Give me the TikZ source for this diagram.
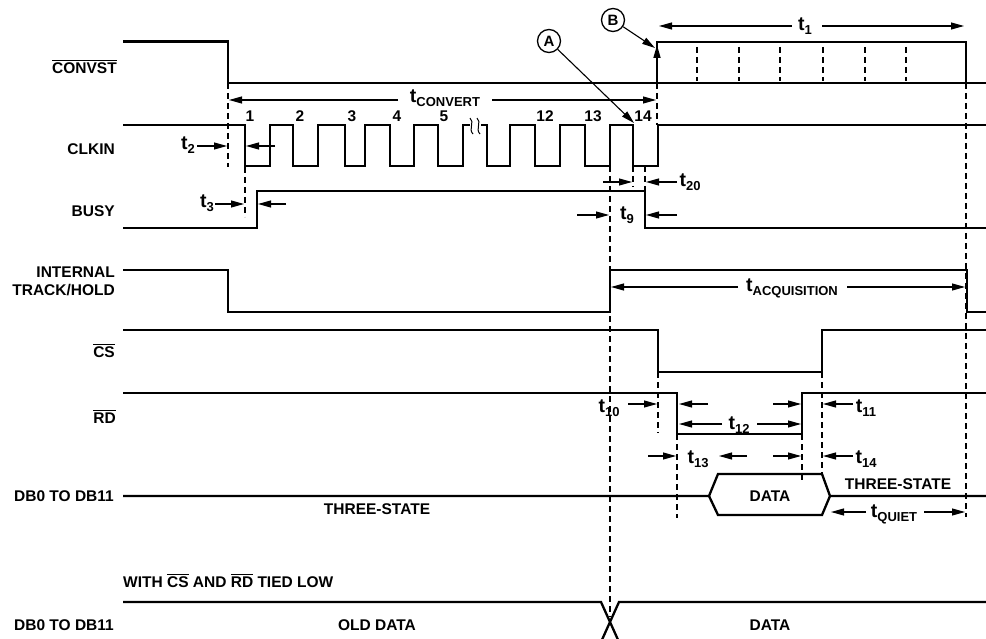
\documentclass[tikz,border=0pt]{standalone}
\usepackage{fontspec}
\setmainfont{Liberation Sans}
\usetikzlibrary{arrows.meta}
\newcommand\tlab[1]{{\fontsize{19.5}{19.5}\selectfont t}\raisebox{-4pt}{\fontsize{13}{13}\selectfont #1}}
\newcommand\ovl[1]{\vbox{\hrule height 1.2pt\kern 2pt\hbox{#1}}}
\begin{document}
\begin{tikzpicture}[x=1pt,y=-1pt,
 sig/.style={line width=2.3pt},
 dsh/.style={line width=1.1pt, dash pattern=on 6pt off 4pt},
 arr/.style={line width=1.1pt,-{Triangle[length=13pt,width=7pt]}},
 lbl/.style={font=\fontsize{15.5}{18}\selectfont\bfseries, inner sep=0pt},
 tl/.style={font=\bfseries, inner sep=0pt, anchor=base},
 num/.style={font=\fontsize{15.5}{18}\selectfont\bfseries, inner sep=0pt, anchor=base},
 circ/.style={circle, draw, line width=1.3pt, minimum size=23pt, inner sep=0pt, font=\fontsize{15}{15}\selectfont\bfseries},
]
\useasboundingbox (0,0) rectangle (986,639);

% ---------- signal labels
\node[lbl, anchor=east] (lconv) at (117,67) {\ovl{CONVST}};
\node[lbl, anchor=east] (lclk) at (115,149) {CLKIN};
\node[lbl, anchor=east] (lbusy) at (115,211) {BUSY};
\node[lbl, anchor=east, align=right] (lth) at (115,281) {INTERNAL\\TRACK/HOLD};
\node[lbl, anchor=east] (lcs) at (115,351) {\ovl{CS}};
\node[lbl, anchor=east] (lrd) at (116,417) {\ovl{RD}};
\node[lbl, anchor=east] (ldb) at (114,496) {DB0 TO DB11};
\node[lbl, anchor=west] (lwith) at (123,581) {WITH \ovl{CS} AND \ovl{RD} TIED LOW};
\node[lbl, anchor=east] (ldb2) at (114,625) {DB0 TO DB11};

% ---------- dashed guide lines
\draw[dsh] (228,83) -- (228,167);
\draw[dsh] (245,167) -- (245,217);
\draw[dsh] (657,83) -- (657,125);
\draw[dsh] (610,166) -- (610,617);
\draw[dsh] (633,166) -- (633,187);
\draw[dsh] (645,166) -- (645,191);
\draw[dsh] (966,83) -- (966,517);
\draw[dsh] (658,372) -- (658,433);
\draw[dsh] (677,434) -- (677,518);
\draw[dsh] (802,434) -- (802,480);
\draw[dsh] (822,372) -- (822,474);
\foreach \x in {697,739,780,823,865,906} \draw[dsh] (\x,47) -- (\x,81);

% ---------- CONVST
\draw[sig] (123,41.5) -- (228,41.5) -- (228,83) -- (986,83);
\draw[sig] (657,83) -- (657,42) -- (966,42) -- (966,83);
\draw[arr, line width=1.6pt] (657,72) -- (657,45);

% ---------- CLKIN
\draw[sig] (123,125) -- (245,125) -- (245,166) -- (270,166) -- (270,125) -- (293,125) -- (293,166)
  -- (318,166) -- (318,125) -- (345,125) -- (345,166) -- (365,166) -- (365,125) -- (390,125)
  -- (390,166) -- (414,166) -- (414,125) -- (438,125) -- (438,166) -- (463,166) -- (463,125) -- (470,125);
\draw[sig] (481,125) -- (487,125) -- (487,166) -- (510,166) -- (510,125) -- (535,125) -- (535,166)
  -- (560,166) -- (560,125) -- (585,125) -- (585,166) -- (610,166) -- (610,125) -- (633,125)
  -- (633,166) -- (658,166) -- (658,125) -- (986,125);
\draw[line width=1pt] (470,118) .. controls (475,122) and (468,129) .. (473,134);
\draw[line width=1pt] (477,118) .. controls (482,122) and (475,129) .. (480,134);

\node[num] (n1) at (250,122) {1};
\node[num] (n2) at (300,122) {2};
\node[num] (n3) at (352,122) {3};
\node[num] (n4) at (397,122) {4};
\node[num] (n5) at (444,122) {5};
\node[num] (n12) at (545,122) {12};
\node[num] (n13) at (593,122) {13};
\node[num] (n14) at (643,122) {14};

% ---------- BUSY
\draw[sig] (123,228) -- (257,228) -- (257,191) -- (645,191) -- (645,228) -- (986,228);

% ---------- TRACK/HOLD
\draw[sig] (123,270) -- (228,270) -- (228,312) -- (610,312) -- (610,270) -- (967,270) -- (967,312) -- (986,312);

% ---------- CS
\draw[sig] (123,330) -- (658,330) -- (658,372) -- (822,372) -- (822,330) -- (986,330);

% ---------- RD
\draw[sig] (123,393) -- (677,393) -- (677,434) -- (802,434) -- (802,393) -- (986,393);

% ---------- DB bus
\draw[sig] (123,496) -- (709,496) -- (718,474) -- (822,474) -- (830,496) -- (986,496);
\draw[sig] (709,496) -- (718,515) -- (822,515) -- (830,496);
\node[lbl] (ldata) at (770,496) {DATA};
\node[lbl] (lts1) at (377,509) {THREE-STATE};
\node[lbl] (lts2) at (898,484) {THREE-STATE};

% ---------- DB bus (tied low)
\draw[sig] (123,602) -- (601,602) -- (619,642);
\draw[sig] (601,642) -- (619,602) -- (986,602);
\node[lbl] (lold) at (377,625) {OLD DATA};
\node[lbl] (ldata2) at (770,625) {DATA};

% ---------- A / B markers
\node[circ] (cA) at (549,41) {A};
\node[circ] (cB) at (613,20) {B};
\draw[arr] (cA) -- (634,123);
\draw[arr] (cB) -- (655,48);

% ---------- timing arrows
% t1
\node[tl] (t1) at (805,31) {\tlab{1}};
\draw[arr] (792,26) -- (659,26);
\draw[arr] (822,26) -- (964,26);
% tCONVERT
\node[tl] (tconv) at (445,103) {\tlab{CONVERT}};
\draw[arr] (398,100) -- (229,100);
\draw[arr] (492,100) -- (656,100);
% t2
\node[tl] (t2) at (188,150) {\tlab{2}};
\draw[arr] (197,146) -- (227,146);
\draw[arr] (275,146) -- (246,146);
% t3
\node[tl] (t3) at (207,208) {\tlab{3}};
\draw[arr] (215,204) -- (244,204);
\draw[arr] (286,204) -- (258,204);
% t20
\draw[arr] (603,182) -- (632,182);
\draw[arr] (677,182) -- (646,182);
\node[tl] (t20) at (690,187) {\tlab{20}};
% t9
\draw[arr] (577,215) -- (609,215);
\draw[arr] (677,215) -- (646,215);
\node[tl] (t9) at (627,220) {\tlab{9}};
% tACQUISITION
\node[tl] (tacq) at (792,292) {\tlab{ACQUISITION}};
\draw[arr] (738,287) -- (611,287);
\draw[arr] (847,287) -- (965,287);
% t10, t11
\node[tl] (t10) at (609,412) {\tlab{10}};
\draw[arr] (628,404) -- (657,404);
\draw[arr] (708,404) -- (679,404);
\draw[arr] (773,404) -- (801,404);
\draw[arr] (853,404) -- (823,404);
\node[tl] (t11) at (866,412) {\tlab{11}};
% t12
\node[tl] (t12) at (739,429) {\tlab{12}};
\draw[arr] (722,424) -- (679,424);
\draw[arr] (757,424) -- (801,424);
% t13, t14
\draw[arr] (648,456) -- (676,456);
\node[tl] (t13) at (698,463) {\tlab{13}};
\draw[arr] (747,456) -- (719,456);
\draw[arr] (773,456) -- (801,456);
\draw[arr] (853,456) -- (823,456);
\node[tl] (t14) at (866,463) {\tlab{14}};
% tQUIET
\node[tl] (tq) at (894,517) {\tlab{QUIET}};
\draw[arr] (866,512) -- (831,512);
\draw[arr] (924,512) -- (965,512);
\end{tikzpicture}
\end{document}
